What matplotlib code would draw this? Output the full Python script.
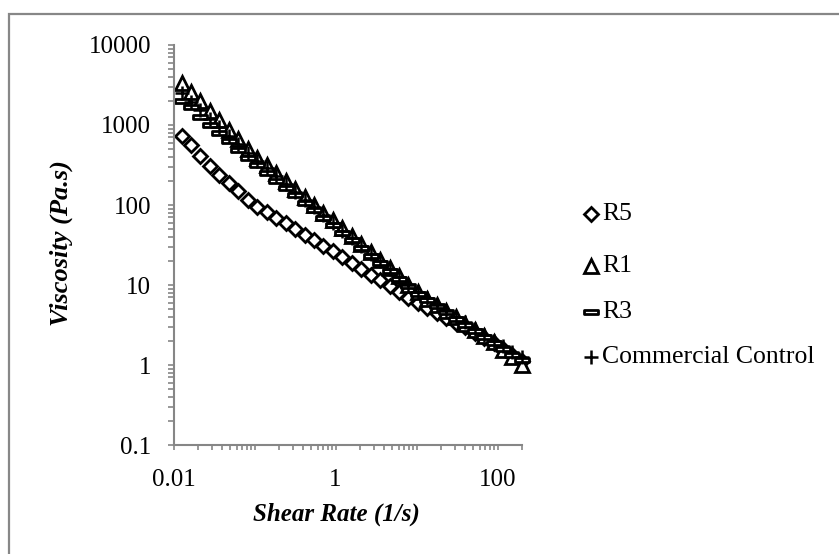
import matplotlib
matplotlib.use("Agg")
import matplotlib.pyplot as plt
from matplotlib.path import Path
from matplotlib.patches import Rectangle
from matplotlib.lines import Line2D
from matplotlib.ticker import LogLocator, FixedLocator, FuncFormatter, NullFormatter

plt.rcParams['font.family'] = ['Liberation Serif', 'DejaVu Serif']

# shear rate (1/s)
shear_rate = [0.0126, 0.0165, 0.0215, 0.0282, 0.0369, 0.0482, 0.0631, 0.0825,
              0.108, 0.141, 0.185, 0.242, 0.316, 0.414, 0.541, 0.708, 0.926,
              1.21, 1.58, 2.07, 2.71, 3.55, 4.64, 6.07, 7.94, 10.4, 13.6,
              17.8, 23.3, 30.4, 39.8, 52.1, 68.1, 89.1, 117, 152, 200]

# viscosity (Pa.s)
r5 = [724, 562, 407, 309, 240, 186, 148, 117, 95.5, 81.3, 69.2, 58.9, 50.1,
      42.7, 36.3, 30.9, 26.3, 22.3, 18.9, 16.0, 13.5, 11.5, 9.7, 8.2, 6.95,
      5.9, 5.14, 4.47, 3.88, 3.38, 2.95, 2.53, 2.17, 1.86, 1.58, 1.33, 1.12]
r1 = [3390, 2580, 1970, 1500, 1143, 871, 664, 506, 391, 312, 249, 199, 158,
      126, 101, 80.5, 64.3, 51.2, 40.6, 32.2, 25.6, 20.3, 16.1, 12.8, 10.1,
      8.1, 6.78, 5.66, 4.72, 3.95, 3.30, 2.75, 2.30, 1.92, 1.55, 1.25, 1.0]
r3 = [1995, 1700, 1253, 993, 785, 622, 493, 391, 312, 251, 202, 163, 132,
      106, 85.9, 69.2, 55.7, 44.9, 36.0, 28.8, 23.2, 18.6, 14.9, 12.0, 9.6,
      7.74, 6.49, 5.43, 4.55, 3.81, 3.19, 2.67, 2.24, 1.88, 1.58, 1.35, 1.15]
control = [2512, 1965, 1538, 1202, 942, 738, 578, 452, 357, 286, 229, 183, 146,
           117, 93.7, 75, 59.8, 48, 38.4, 30.7, 24.6, 19.7, 15.7, 12.6, 10.1,
           8.1, 6.8, 5.7, 4.8, 4.0, 3.4, 2.84, 2.39, 2.01, 1.71, 1.47, 1.26]

labels = ['R5', 'R1', 'R3', 'Commercial Control']

W, H = 839, 554
fig = plt.figure(figsize=(W / 100, H / 100), dpi=100)

# outer chart border (cropped at right/bottom)
fig.patches.append(Rectangle((8.5 / W, -0.1), 1.2, (H - 14) / H + 0.1,
                             transform=fig.transFigure, fill=False,
                             edgecolor='#878787', linewidth=1.6))

ax = fig.add_axes([173.5 / W, (H - 445) / H, (522 - 173.5) / W, 400 / H])

bar = Path([(-1, -0.3), (1, -0.3), (1, 0.3), (-1, 0.3), (-1, -0.3)],
           [Path.MOVETO, Path.LINETO, Path.LINETO, Path.LINETO, Path.CLOSEPOLY])

styles = [
    dict(marker='D', markersize=7.2, markerfacecolor='white', markeredgewidth=2.0),
    dict(marker='^', markersize=9.8, markerfacecolor='white', markeredgewidth=2.0),
    dict(marker=bar, markersize=10, markerfacecolor='white', markeredgewidth=2.0),
    dict(marker='+', markersize=10, markeredgewidth=1.8),
]

for ys, st in zip([r5, r1, r3, control], styles):
    ax.plot(shear_rate, ys, linestyle='none', color='black',
            markeredgecolor='black', clip_on=False, **st)

ax.set_xscale('log')
ax.set_yscale('log')
ax.set_xlim(0.01, 200)
ax.set_ylim(0.1, 10000)

ax.xaxis.set_major_locator(FixedLocator([0.01, 1, 100]))
ax.xaxis.set_minor_locator(LogLocator(base=10, subs=range(1, 10), numticks=20))
ax.yaxis.set_major_locator(LogLocator(base=10, numticks=10))
ax.yaxis.set_minor_locator(LogLocator(base=10, subs=range(2, 10), numticks=20))
fmt = FuncFormatter(lambda v, p: '%g' % v)
ax.xaxis.set_major_formatter(fmt)
ax.yaxis.set_major_formatter(fmt)
ax.xaxis.set_minor_formatter(NullFormatter())
ax.yaxis.set_minor_formatter(NullFormatter())

gray = '#868686'
for s in ['top', 'right']:
    ax.spines[s].set_visible(False)
for s in ['left', 'bottom']:
    ax.spines[s].set_color(gray)
    ax.spines[s].set_linewidth(1.5)
ax.tick_params(which='both', direction='out', color=gray, width=1.2,
               labelsize=18, labelcolor='black')
ax.tick_params(axis='y', which='both', length=4, pad=12)
ax.tick_params(axis='x', which='both', length=3.5, pad=14)

fig.text(336 / W, 1 - 514 / H, 'Shear Rate (1/s)', ha='center', va='center',
         fontsize=18, fontweight='bold', fontstyle='italic')
fig.text(61 / W, 1 - 243 / H, 'Viscosity (Pa.s)', ha='center', va='center',
         rotation=90, fontsize=19, fontweight='bold', fontstyle='italic')

# legend
leg_y = [214, 266, 312, 357]
for lab, st, yy in zip(labels, styles, leg_y):
    fig.add_artist(Line2D([591 / W], [1 - yy / H], transform=fig.transFigure,
                          linestyle='none', color='black', markeredgecolor='black', **st))
    fig.text(602 / W, 1 - yy / H, lab, ha='left', va='center', fontsize=18.5)

fig.savefig('out.png', dpi=100)
